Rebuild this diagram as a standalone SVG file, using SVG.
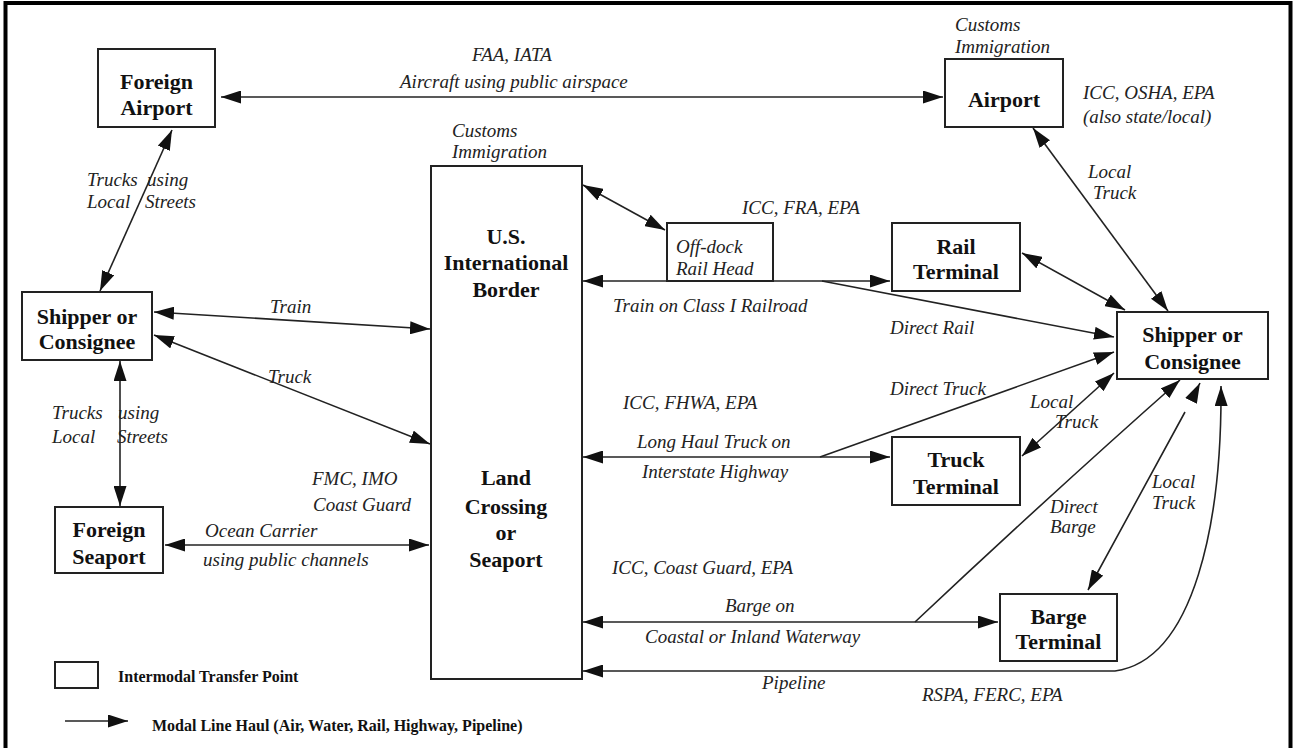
<svg xmlns="http://www.w3.org/2000/svg" width="1296" height="748" viewBox="0 0 1296 748">
<style>
.box{fill:#fff;stroke:#222;stroke-width:2}
.nl{font-family:"Liberation Serif",serif;font-weight:bold;font-size:22px;fill:#111;text-anchor:middle}
.lb{font-family:"Liberation Serif",serif;font-style:italic;font-size:19px;fill:#222}
.lg{font-family:"Liberation Serif",serif;font-weight:bold;font-size:16px;fill:#111}
.c{fill:none;stroke:#222;stroke-width:1.6}
.b{marker-start:url(#ah);marker-end:url(#ah)}
.e{marker-end:url(#ah)}
</style>
<defs>
<marker id="ah" markerUnits="userSpaceOnUse" markerWidth="20" markerHeight="13" viewBox="0 0 20 13" refX="20" refY="6.5" orient="auto-start-reverse">
<path d="M0,0 L20,6.5 L0,13 z" fill="#111"/>
</marker>
</defs>
<rect width="1296" height="748" fill="#fff"/>
<rect x="5.5" y="3" width="1285" height="760" fill="none" stroke="#000" stroke-width="4"/>

<g id="connectors">
<path class="c b" d="M221,97 L943,97"/>
<path class="c b" d="M172,130 L100,291"/>
<path class="c b" d="M154,312 L430,329"/>
<path class="c b" d="M154,335 L430,444"/>
<path class="c b" d="M120,361 L120,506"/>
<path class="c b" d="M165,545 L429,545"/>
<path class="c b" d="M583,185 L665,230"/>
<path class="c b" d="M583,281 L890,281"/>
<path class="c e" d="M822,281 L1114,337"/>
<path class="c b" d="M1022,253 L1125,310"/>
<path class="c b" d="M1033,128 L1168,311"/>
<path class="c b" d="M583,457 L890,457"/>
<path class="c e" d="M820,457 L1114,352"/>
<path class="c b" d="M1022,456 L1114,373"/>
<path class="c b" d="M583,622 L998,622"/>
<path class="c e" d="M915,622 Q1050,495 1180,380"/>
<path class="c b" d="M1200,383 L1199,385 M1185,412 L1088,590"/>
<path class="c b" d="M583,671 L1115,671 C1195,660 1222,520 1221,386"/>
<path class="c e" d="M65,721 L128,721"/>
</g>

<g id="foreign-airport">
<rect class="box" x="98" y="49" width="117" height="78"/>
<text class="nl" x="156.5" y="89">Foreign</text>
<text class="nl" x="156.5" y="115">Airport</text>
</g>
<g id="airport">
<rect class="box" x="945" y="59" width="118" height="68"/>
<text class="nl" x="1004" y="107">Airport</text>
</g>
<g id="us-border">
<rect class="box" x="431" y="166" width="151" height="513"/>
<text class="nl" x="506" y="244">U.S.</text>
<text class="nl" x="506" y="270">International</text>
<text class="nl" x="506" y="297">Border</text>
<text class="nl" x="506" y="485">Land</text>
<text class="nl" x="506" y="514">Crossing</text>
<text class="nl" x="506" y="540">or</text>
<text class="nl" x="506" y="567">Seaport</text>
</g>
<g id="offdock-railhead">
<rect class="box" x="667" y="223" width="106" height="58"/>
<text class="lb" x="676" y="253">Off-dock</text>
<text class="lb" x="676" y="275">Rail Head</text>
</g>
<g id="rail-terminal">
<rect class="box" x="892" y="223" width="128" height="68"/>
<text class="nl" x="956" y="254">Rail</text>
<text class="nl" x="956" y="279">Terminal</text>
</g>
<g id="truck-terminal">
<rect class="box" x="892" y="437" width="128" height="68"/>
<text class="nl" x="956" y="467">Truck</text>
<text class="nl" x="956" y="494">Terminal</text>
</g>
<g id="barge-terminal">
<rect class="box" x="1000" y="594" width="117" height="67"/>
<text class="nl" x="1058.5" y="624">Barge</text>
<text class="nl" x="1058.5" y="649">Terminal</text>
</g>
<g id="shipper-right">
<rect class="box" x="1117" y="312" width="151" height="67"/>
<text class="nl" x="1192.5" y="342">Shipper or</text>
<text class="nl" x="1192.5" y="369">Consignee</text>
</g>
<g id="shipper-left">
<rect class="box" x="22" y="292" width="130" height="68"/>
<text class="nl" x="87" y="324">Shipper or</text>
<text class="nl" x="87" y="349">Consignee</text>
</g>
<g id="foreign-seaport">
<rect class="box" x="55" y="507" width="108" height="66"/>
<text class="nl" x="109" y="537">Foreign</text>
<text class="nl" x="109" y="564">Seaport</text>
</g>

<g id="labels">
<text class="lb" x="472" y="61">FAA, IATA</text>
<text class="lb" x="400" y="88">Aircraft using public airspace</text>
<text class="lb" x="955" y="31">Customs</text>
<text class="lb" x="955" y="53">Immigration</text>
<text class="lb" x="1083" y="99">ICC, OSHA, EPA</text>
<text class="lb" x="1083" y="123">(also state/local)</text>
<text class="lb" x="1088" y="178">Local</text>
<text class="lb" x="1093" y="199">Truck</text>
<text class="lb" x="452" y="137">Customs</text>
<text class="lb" x="452" y="158">Immigration</text>
<text class="lb" x="87" y="186">Trucks</text>
<text class="lb" x="147" y="186">using</text>
<text class="lb" x="87" y="208">Local</text>
<text class="lb" x="145" y="208">Streets</text>
<text class="lb" x="270" y="313">Train</text>
<text class="lb" x="268" y="383">Truck</text>
<text class="lb" x="52" y="419">Trucks</text>
<text class="lb" x="118" y="419">using</text>
<text class="lb" x="52" y="443">Local</text>
<text class="lb" x="117" y="443">Streets</text>
<text class="lb" x="312" y="485">FMC, IMO</text>
<text class="lb" x="313" y="511">Coast Guard</text>
<text class="lb" x="205" y="537">Ocean Carrier</text>
<text class="lb" x="203" y="566">using public channels</text>
<text class="lb" x="742" y="214">ICC, FRA, EPA</text>
<text class="lb" x="613" y="312">Train on Class I Railroad</text>
<text class="lb" x="890" y="334">Direct Rail</text>
<text class="lb" x="890" y="395">Direct Truck</text>
<text class="lb" x="623" y="409">ICC, FHWA, EPA</text>
<text class="lb" x="637" y="448">Long Haul Truck on</text>
<text class="lb" x="642" y="478">Interstate Highway</text>
<text class="lb" x="1030" y="408">Local</text>
<text class="lb" x="1055" y="428">Truck</text>
<text class="lb" x="1050" y="513">Direct</text>
<text class="lb" x="1050" y="533">Barge</text>
<text class="lb" x="1152" y="488">Local</text>
<text class="lb" x="1152" y="509">Truck</text>
<text class="lb" x="612" y="574">ICC, Coast Guard, EPA</text>
<text class="lb" x="725" y="612">Barge on</text>
<text class="lb" x="645" y="643">Coastal or Inland Waterway</text>
<text class="lb" x="762" y="689">Pipeline</text>
<text class="lb" x="922" y="701">RSPA, FERC, EPA</text>
</g>

<g id="legend">
<rect class="box" x="55" y="662" width="43" height="26"/>
<text class="lg" x="118" y="682">Intermodal Transfer Point</text>
<text class="lg" x="152" y="731">Modal Line Haul (Air, Water, Rail, Highway, Pipeline)</text>
</g>
</svg>
